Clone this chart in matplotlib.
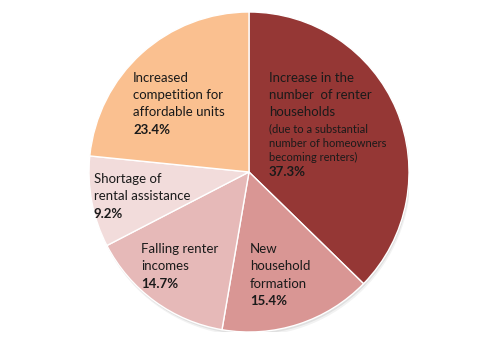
import matplotlib.pyplot as plt
from matplotlib.patches import Circle

# slices, clockwise from 12 o'clock
shares = [37.3, 15.4, 14.7, 9.2, 23.4]
colors = ['#953735', '#D99694', '#E6B9B8', '#F2DCDB', '#FAC090']
labels = [
    ['Increase in the', 'number  of renter', 'households'],
    ['New', 'household', 'formation'],
    ['Falling renter', 'incomes'],
    ['Shortage of', 'rental assistance'],
    ['Increased', 'competition for', 'affordable units'],
]
notes = [['(due to a substantial', 'number of homeowners', 'becoming renters)'], [], [], [], []]
pct_labels = ['%.1f%%' % s for s in shares]

# top-left of each label block, in units of the pie radius
label_pos = [(0.125, 0.59), (0.006, -0.48), (-0.675, -0.48), (-0.969, -0.044), (-0.725, 0.59)]

plt.rcParams['font.family'] = ['Lato', 'DejaVu Sans']
fig = plt.figure(figsize=(5, 3.55), dpi=100)
ax = fig.add_axes([89 / 500, 23 / 355, 320 / 500, 320 / 355])

# soft shadow
for k, a in [(0.025, 0.05), (0.014, 0.07)]:
    ax.add_patch(Circle((k * 0.4, -k), 1.0, color='black', alpha=a, lw=0, zorder=0))

wedges, _ = ax.pie(shares, colors=colors, startangle=90, counterclock=False,
                   radius=1.0, center=(0, 0),
                   wedgeprops=dict(edgecolor='white', linewidth=1.0))

step = 0.109
for (x, y), lines, note, pct in zip(label_pos, labels, notes, pct_labels):
    yy = y
    for ln in lines:
        ax.text(x, yy, ln, fontsize=9.5, color='#1a1a1a', ha='left', va='center')
        yy -= step
    for ln in note:
        ax.text(x, yy + 0.005, ln, fontsize=8, color='#1a1a1a', ha='left', va='center')
        yy -= step * 0.8
    ax.text(x, yy, pct, fontsize=9.5, fontweight='bold', color='#1a1a1a', ha='left', va='center')

ax.set_xlim(-1, 1)
ax.set_ylim(-1, 1)
ax.axis('off')
fig.savefig('out.png', dpi=100, facecolor='white')
